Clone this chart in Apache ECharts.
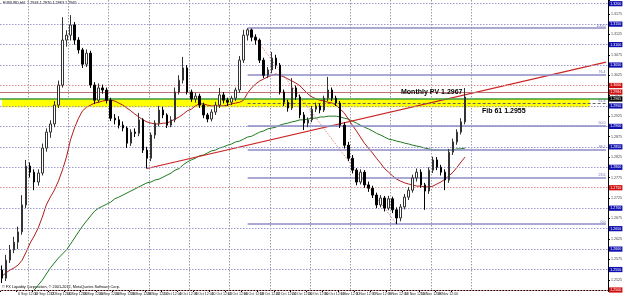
<!DOCTYPE html>
<html><head><meta charset="utf-8">
<script src="https://cdn.jsdelivr.net/npm/echarts@6/dist/echarts.min.js"></script>
<style>html,body{margin:0;padding:0;background:#fff;}#c{width:625px;height:303px;}</style>
</head><body><div id="c"></div>
<script>
// ---- data ----
const tradingDays = ['2012-09-04','2012-09-05','2012-09-06','2012-09-07','2012-09-10','2012-09-11','2012-09-12','2012-09-13','2012-09-14','2012-09-17','2012-09-18','2012-09-19','2012-09-20','2012-09-21','2012-09-24','2012-09-25','2012-09-26','2012-09-27','2012-09-28','2012-10-01','2012-10-02','2012-10-03','2012-10-04','2012-10-05','2012-10-08','2012-10-09','2012-10-10','2012-10-11','2012-10-12','2012-10-15','2012-10-16','2012-10-17','2012-10-18','2012-10-19','2012-10-22','2012-10-23','2012-10-24','2012-10-25','2012-10-26','2012-10-29','2012-10-30','2012-10-31','2012-11-01','2012-11-02','2012-11-05','2012-11-06','2012-11-07','2012-11-08','2012-11-09','2012-11-12','2012-11-13','2012-11-14','2012-11-15','2012-11-16','2012-11-19','2012-11-20','2012-11-21','2012-11-22','2012-11-23'];
const futureDays = ['2012-11-26','2012-11-27','2012-11-28','2012-11-29','2012-11-30','2012-12-03','2012-12-04','2012-12-05','2012-12-06','2012-12-07','2012-12-10','2012-12-11','2012-12-12','2012-12-13','2012-12-14','2012-12-17','2012-12-18','2012-12-19'];
const barHours = ['00:00','12:00'];
const totalSlots = 151;

const opens = [1.2549,1.2529,1.2573,1.2598,1.2617,1.2642,1.2708,1.2803,1.2788,1.2764,
1.2786,1.2847,1.2886,1.2906,1.2952,1.3001,1.3111,1.3123,1.3148,1.3111,
1.3087,1.3052,1.3079,1.3001,1.2964,1.2994,1.2989,1.2964,1.2920,1.2916,
1.2903,1.2896,1.2859,1.2886,1.2883,1.2916,1.2842,1.2822,1.2879,1.2908,
1.2940,1.2928,1.2903,1.2916,1.2984,1.3013,1.3043,1.2984,1.2967,1.2974,
1.2952,1.2928,1.2918,1.2935,1.2952,1.2977,1.2964,1.2959,1.2969,1.2989,
1.3062,1.3123,1.3136,1.3118,1.3111,1.3062,1.3025,1.3038,1.3067,1.3050,
1.2984,1.2959,1.2945,1.2994,1.2972,1.2928,1.2908,1.2916,1.2942,1.2950,
1.2940,1.2969,1.2989,1.2969,1.2957,1.2903,1.2854,1.2822,1.2793,1.2764,
1.2788,1.2757,1.2749,1.2732,1.2708,1.2725,1.2700,1.2723,1.2696,1.2676,
1.2703,1.2727,1.2744,1.2774,1.2788,1.2757,1.2742,1.2793,1.2818,1.2800,
1.2788,1.2769,1.2837,1.2862,1.2886,1.2911];
const closes = [1.2529,1.2573,1.2598,1.2617,1.2642,1.2708,1.2803,1.2788,1.2764,1.2786,
1.2847,1.2886,1.2906,1.2952,1.3001,1.3111,1.3123,1.3148,1.3111,1.3087,
1.3052,1.3079,1.3001,1.2964,1.2994,1.2989,1.2964,1.2920,1.2916,1.2903,
1.2896,1.2859,1.2886,1.2883,1.2916,1.2842,1.2822,1.2879,1.2908,1.2940,
1.2928,1.2903,1.2916,1.2984,1.3013,1.3043,1.2984,1.2967,1.2974,1.2952,
1.2928,1.2918,1.2935,1.2952,1.2977,1.2964,1.2959,1.2969,1.2989,1.3062,
1.3123,1.3136,1.3118,1.3111,1.3062,1.3025,1.3038,1.3067,1.3050,1.2984,
1.2959,1.2945,1.2994,1.2972,1.2928,1.2908,1.2916,1.2942,1.2950,1.2940,
1.2969,1.2989,1.2969,1.2957,1.2903,1.2854,1.2822,1.2793,1.2764,1.2788,
1.2757,1.2749,1.2732,1.2708,1.2725,1.2700,1.2723,1.2696,1.2676,1.2703,
1.2727,1.2744,1.2774,1.2788,1.2757,1.2742,1.2793,1.2818,1.2800,1.2788,
1.2769,1.2837,1.2862,1.2886,1.2911,1.2972];
const lows = [1.2517,1.2522,1.2566,1.2590,1.2600,1.2635,1.2700,1.2775,1.2744,1.2755,
1.2780,1.2838,1.2872,1.2898,1.2945,1.2995,1.3095,1.3110,1.3100,1.3078,
1.3043,1.3045,1.2994,1.2955,1.2958,1.2980,1.2956,1.2913,1.2905,1.2895,
1.2888,1.2847,1.2852,1.2874,1.2876,1.2835,1.2797,1.2815,1.2870,1.2900,
1.2920,1.2896,1.2898,1.2910,1.2978,1.3005,1.2978,1.2960,1.2958,1.2945,
1.2920,1.2910,1.2912,1.2928,1.2945,1.2956,1.2950,1.2952,1.2962,1.2982,
1.3055,1.3110,1.3108,1.3100,1.3055,1.3018,1.3018,1.3030,1.3040,1.2978,
1.2950,1.2936,1.2940,1.2965,1.2920,1.2891,1.2898,1.2910,1.2935,1.2932,
1.2935,1.2962,1.2962,1.2950,1.2896,1.2846,1.2815,1.2785,1.2756,1.2758,
1.2750,1.2740,1.2725,1.2700,1.2702,1.2692,1.2695,1.2688,1.2661,1.2668,
1.2697,1.2720,1.2738,1.2765,1.2750,1.2696,1.2735,1.2786,1.2793,1.2780,
1.2744,1.2762,1.2830,1.2855,1.2880,1.2905];
const highs = [1.2560,1.2586,1.2610,1.2630,1.2655,1.2732,1.2818,1.2812,1.2795,1.2795,
1.2858,1.2895,1.2915,1.2962,1.3012,1.3167,1.3135,1.3172,1.3155,1.3118,
1.3092,1.3088,1.3085,1.3008,1.3005,1.3002,1.2995,1.2970,1.2930,1.2925,
1.2912,1.2900,1.2893,1.2895,1.2933,1.2920,1.2850,1.2885,1.2915,1.2950,
1.2948,1.2932,1.2925,1.2995,1.3025,1.3070,1.3050,1.2990,1.2982,1.2980,
1.2958,1.2933,1.2942,1.2960,1.2994,1.2984,1.2970,1.2975,1.2995,1.3072,
1.3136,1.3140,1.3139,1.3125,1.3115,1.3068,1.3045,1.3082,1.3075,1.3055,
1.2990,1.2965,1.3018,1.3000,1.2978,1.2935,1.2922,1.2950,1.2958,1.2956,
1.2975,1.3021,1.2995,1.2975,1.2962,1.2910,1.2862,1.2830,1.2798,1.2795,
1.2793,1.2765,1.2755,1.2738,1.2732,1.2730,1.2730,1.2728,1.2702,1.2710,
1.2735,1.2752,1.2782,1.2797,1.2795,1.2762,1.2800,1.2826,1.2825,1.2806,
1.2795,1.2845,1.2870,1.2893,1.2920,1.2994];

const maRed = [1.2534,1.2542,1.2549,1.2554,1.2561,1.2573,1.2593,1.2615,1.2632,1.2652,
1.2678,1.2708,1.2727,1.2744,1.2766,1.2793,1.2825,1.2867,1.2896,1.2920,
1.2938,1.2947,1.2952,1.2957,1.2959,1.2962,1.2964,1.2964,1.2962,1.2957,
1.2952,1.2945,1.2938,1.2930,1.2923,1.2916,1.2911,1.2908,1.2906,1.2906,
1.2908,1.2908,1.2913,1.2918,1.2923,1.2930,1.2938,1.2942,1.2950,1.2955,
1.2955,1.2952,1.2950,1.2950,1.2950,1.2950,1.2952,1.2955,1.2957,1.2959,
1.2964,1.2982,1.2994,1.3004,1.3011,1.3016,1.3021,1.3025,1.3028,1.3025,
1.3021,1.3016,1.3011,1.3006,1.2999,1.2989,1.2979,1.2972,1.2967,1.2964,
1.2962,1.2959,1.2957,1.2952,1.2942,1.2933,1.2918,1.2903,1.2889,1.2874,
1.2859,1.2847,1.2835,1.2822,1.2810,1.2797,1.2788,1.2779,1.2771,1.2766,
1.2762,1.2759,1.2757,1.2754,1.2754,1.2752,1.2752,1.2754,1.2759,1.2764,
1.2771,1.2779,1.2788,1.2800,1.2813,1.2825];
const maGreen = [null,null,null,null,null,null,null,null,1.2500,1.2512,
1.2524,1.2539,1.2554,1.2566,1.2578,1.2588,1.2598,1.2612,1.2627,1.2642,
1.2656,1.2669,1.2681,1.2693,1.2700,1.2705,1.2710,1.2715,1.2723,1.2727,
1.2732,1.2737,1.2742,1.2747,1.2752,1.2757,1.2762,1.2764,1.2769,1.2771,
1.2776,1.2781,1.2786,1.2793,1.2797,1.2806,1.2813,1.2818,1.2822,1.2828,
1.2830,1.2835,1.2840,1.2842,1.2847,1.2850,1.2854,1.2857,1.2862,1.2864,
1.2869,1.2874,1.2876,1.2881,1.2886,1.2889,1.2894,1.2896,1.2898,1.2903,
1.2906,1.2908,1.2911,1.2913,1.2916,1.2916,1.2918,1.2920,1.2920,1.2923,
1.2923,1.2925,1.2925,1.2925,1.2923,1.2920,1.2918,1.2913,1.2908,1.2903,
1.2898,1.2894,1.2889,1.2883,1.2879,1.2874,1.2869,1.2867,1.2864,1.2862,
1.2859,1.2857,1.2854,1.2852,1.2850,1.2847,1.2845,1.2842,1.2842,1.2842,
1.2842,1.2842,1.2842,1.2845,1.2845,1.2847];

const roundLevels = [1.2500,1.2550,1.2600,1.2650,1.2700,1.2750,1.2800,1.2850,1.2900,1.2950,1.3000,1.3050,1.3100,1.3150,1.3200];
const redRoundLevels = [1.2500,1.2750,1.3000];
const fibLevels = [1.3140,1.3027,1.2957,1.2901,1.2844,1.2774,1.2661];
const fibNames = ['100.0','76.4','61.8','50.0','38.2','23.6','0.0'];
const fibStartBar = 61, fibHighBar = 61, fibLowBar = 98;
const monthlyPV = 1.2967, bandLow = 1.2947, pivotRed = 1.2984, bidPrice = 1.2965;
const trendA = [36, 1.2797], trendB = [150, 1.3057];
const titleText = 'EURUSD,H4  1.2944 1.2970 1.2963 1.2965';
const copyText = '\u00a9 FX Liquidity Corporation, \u00a9 2001-2012, MetaQuotes Software Corp.';

// ---- build categories ----
const mon = ['Jan','Feb','Mar','Apr','May','Jun','Jul','Aug','Sep','Oct','Nov','Dec'];
const cats = [], isMonday = [];
tradingDays.concat(futureDays).forEach(d => {
  const dt = new Date(d + 'T00:00:00Z');
  barHours.forEach(h => {
    cats.push(dt.getUTCDate() + ' ' + mon[dt.getUTCMonth()] + ' ' + h);
    isMonday.push(dt.getUTCDay() === 1 && h === '00:00');
  });
});
cats.shift(); isMonday.shift();               // chart starts 4 Sep 12:00
cats.length = totalSlots; isMonday.length = totalSlots;
const N = opens.length;
const candle = opens.map((o, i) => [o, closes[i], lows[i], highs[i]]);

const F = 'Liberation Sans, Arial, sans-serif';
const boxLabel = (txt, bg) => ({show: true, position: 'end', distance: 1, formatter: txt, color: '#fff', fontSize: 3.6,
  fontFamily: F, backgroundColor: bg, padding: [0.6, 1.2]});
const roundMarks = roundLevels.map(v => {
  const red = redRoundLevels.includes(v);
  return {yAxis: v, lineStyle: {color: red ? '#dd9090' : '#9a9ad0', type: [1.5, 1.5], width: 1},
    label: boxLabel(v.toFixed(4), red ? '#d01010' : '#1010b0')};
});
const fibMarks = fibLevels.map((v, k) => [
  {coord: [fibStartBar, v], lineStyle: {color: k === 2 ? '#666' : '#8c8cc4', width: k === 2 ? 1 : 1.5, type: k === 2 ? [3, 2] : 'solid'},
   label: {show: true, position: 'insideEndTop', distance: 0.5, formatter: fibNames[k], color: '#6a6aa8', fontSize: 3.6, fontFamily: F}},
  {coord: [cats.length - 1, v]}
]);

const chart = echarts.init(document.getElementById('c'), null, {renderer: 'canvas'});
chart.setOption({
  animation: false,
  backgroundColor: '#fff',
  grid: {left: 0, right: 13, top: 0, bottom: 13},
  xAxis: {
    type: 'category', data: cats, boundaryGap: true,
    axisLine: {lineStyle: {color: '#000', width: 1}},
    axisTick: {show: true, length: 2, interval: (i) => i % 4 === 0 && i < N, lineStyle: {color: '#000'}},
    axisLabel: {interval: (i) => i % 4 === 0 && i < N, fontSize: 3.6, color: '#222', fontFamily: F, margin: 2,
      align: 'left', formatter: (v, i) => i === 0 ? '4 Sep 2012' : v},
    splitLine: {show: true, interval: (i) => isMonday[i] && i <= N + 2, lineStyle: {color: '#9a9aa8', type: [1.5, 1.5], width: 1}}
  },
  yAxis: {
    type: 'value', position: 'right', min: 1.25, max: 1.3209, interval: 0.0025, scale: true,
    axisLine: {show: true, lineStyle: {color: '#000'}},
    axisTick: {show: true, length: 2, lineStyle: {color: '#000'}},
    axisLabel: {fontSize: 3.6, color: '#444', fontFamily: F, margin: 3,
      formatter: (v) => (Math.round(v * 400) % 2 === 1 ? v.toFixed(4) : '')},
    splitLine: {show: false}
  },
  graphic: [
    {type: 'text', left: 3, top: 1, style: {text: titleText, fontSize: 3.8, fill: '#000', fontFamily: F}},
    {type: 'text', left: 2, top: 285, style: {text: copyText, fontSize: 3.8, fill: '#000', fontFamily: F}},
    {type: 'text', left: 401, top: 89, z: 50, style: {text: 'Monthly PV 1.2967', fontSize: 7, fontWeight: 'bold', fill: '#000', fontFamily: F}},
    {type: 'text', left: 482, top: 108, z: 50, style: {text: 'Fib 61 1.2955', fontSize: 7, fontWeight: 'bold', fill: '#000', fontFamily: F}}
  ],
  series: [
    {type: 'line', name: 'levels', data: cats.map(() => null), z: 1, silent: true,
      markArea: {silent: true, itemStyle: {color: '#ffff00'},
        data: [[{coord: [0, monthlyPV]}, {coord: [cats.length - 5, bandLow]}]]},
      markLine: {silent: true, symbol: ['none', 'none'], animation: false, precision: 6,
        data: roundMarks.concat([
          {yAxis: pivotRed, lineStyle: {color: '#c07070', type: 'solid', width: 1}, label: boxLabel(pivotRed.toFixed(4), '#d01010')},
          {yAxis: monthlyPV, lineStyle: {color: '#3c9a3c', type: 'solid', width: 1.5}, label: boxLabel(bidPrice.toFixed(4), '#000')}
        ])}
    },
    {type: 'line', name: 'fib', data: cats.map(() => null), z: 2, silent: true,
      markLine: {silent: true, symbol: ['none', 'none'], animation: false, precision: 6,
        data: fibMarks.concat([[
          {coord: [fibHighBar, fibLevels[0]], lineStyle: {color: '#e08888', type: [1.5, 1.5], width: 1}, label: {show: false}},
          {coord: [fibLowBar, fibLevels[6]]}
        ]])}
    },
    {type: 'line', name: 'MA slow', data: maGreen, showSymbol: false, z: 3, lineStyle: {color: '#1f7a1f', width: 1}},
    {type: 'line', name: 'MA fast', data: maRed, showSymbol: false, z: 3, lineStyle: {color: '#b41c1c', width: 1}},
    {type: 'line', name: 'trend', data: [trendA, trendB], showSymbol: false, z: 4, lineStyle: {color: '#cc2222', width: 1.2}},
    {type: 'candlestick', name: 'EURUSD', data: candle, z: 5, barWidth: 2,
      itemStyle: {color: '#ffffff', color0: '#000000', borderColor: '#333', borderColor0: '#000', borderWidth: 1}}
  ]
});
</script></body></html>
